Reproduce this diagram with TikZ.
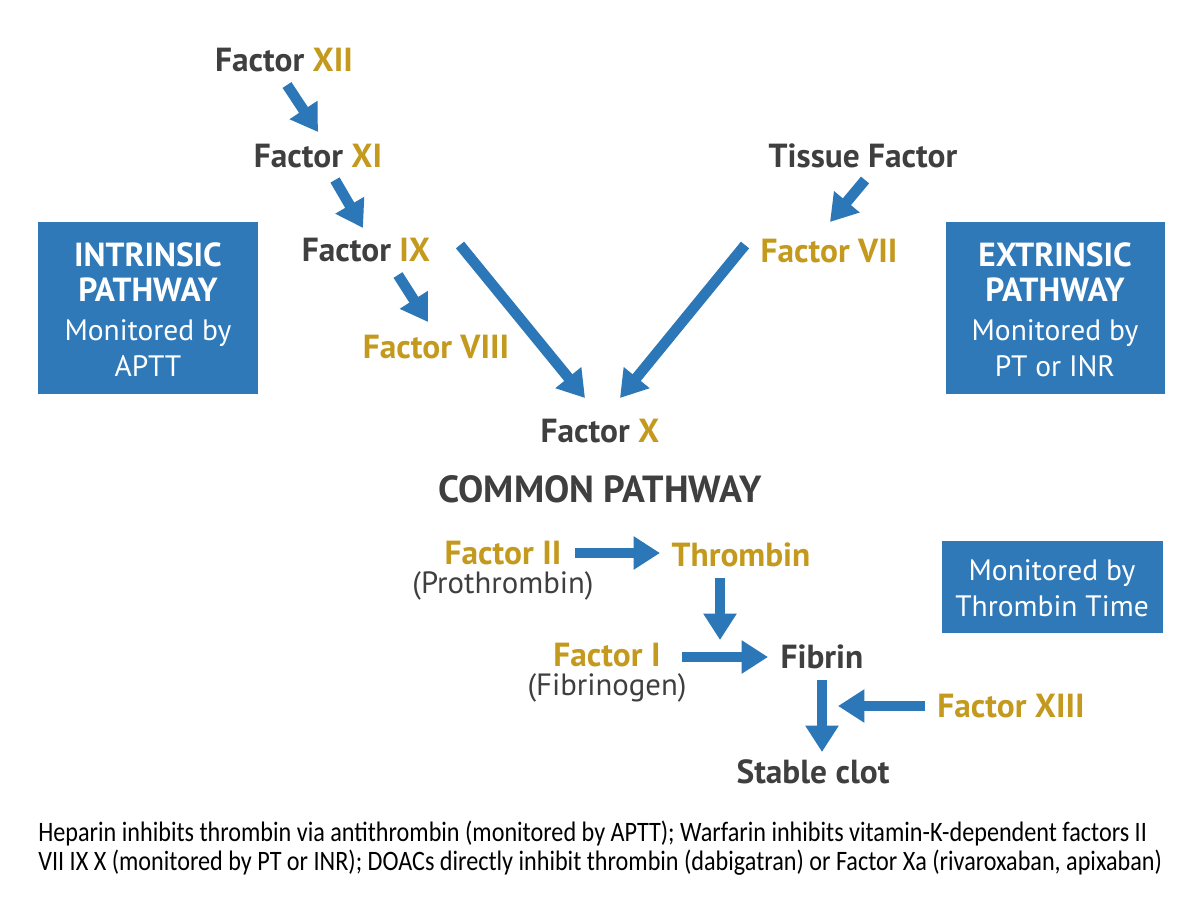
\documentclass[tikz,border=0pt]{standalone}
\usepackage{fontspec}
\setmainfont{PT Sans}
\newfontfamily\notefont[FakeStretch=0.86]{Carlito}
\usetikzlibrary{arrows.meta,calc}
\definecolor{dk}{HTML}{3F3F3F}
\definecolor{gd}{HTML}{C49A1E}
\definecolor{bl}{HTML}{2B77B7}
\definecolor{bx}{HTML}{2F79B8}
\tikzset{
  lbl/.style={font=\fontsize{19}{22}\selectfont\bfseries, text=dk, inner sep=0pt},
  sub/.style={font=\fontsize{17.5}{20}\selectfont, text=dk, inner sep=0pt},
  arr/.style={draw=bl, line width=6pt, -{Triangle[length=15pt,width=18pt]}},
  boxs/.style={fill=bx, draw=none},
  boxt/.style={text=white, font=\fontsize{19}{22}\selectfont\bfseries, inner sep=0pt},
  boxr/.style={text=white, font=\fontsize{16.8}{20}\selectfont, inner sep=0pt},
}
\begin{document}
\begin{tikzpicture}[x=0.02cm,y=-0.02cm]
\useasboundingbox[fill=white] (0,0) rectangle (1200,896);
% boxes
\fill[boxs] (38,222) rectangle (258,394);
\node[boxt] (intr1) at (148,255) {INTRINSIC};
\node[boxt] (intr2) at (148,290) {PATHWAY};
\node[boxr] (intr3) at (148,333) {Monitored by};
\node[boxr] (intr4) at (148,366) {APTT};
\fill[boxs] (946,222) rectangle (1165,394);
\node[boxt] (extr1) at (1055,255) {EXTRINSIC};
\node[boxt] (extr2) at (1055,290) {PATHWAY};
\node[boxr] (extr3) at (1055,333) {Monitored by};
\node[boxr] (extr4) at (1055,366) {PT or INR};
\fill[boxs] (942,541) rectangle (1163,633);
\node[boxr] (tt1) at (1052,573) {Monitored by};
\node[boxr] (tt2) at (1052,606) {Thrombin Time};
% nodes
\node[lbl] (xii) at (284,60) {Factor \textcolor{gd}{XII}};
\node[lbl] (xi) at (318,156) {Factor \textcolor{gd}{XI}};
\node[lbl] (ix) at (366,250) {Factor \textcolor{gd}{IX}};
\node[lbl,text=gd] (viii) at (436,347) {Factor VIII};
\node[lbl] (x) at (600,431) {Factor \textcolor{gd}{X}};
\node[lbl] (tf) at (863,156) {Tissue Factor};
\node[lbl,text=gd] (vii) at (829,251) {Factor VII};
\node[lbl,font=\fontsize{21.5}{24}\selectfont\bfseries] (common) at (600,489) {COMMON PATHWAY};
\node[lbl,text=gd] (fii) at (503,553) {Factor II};
\node[sub] (fiis) at (503,586) {(Prothrombin)};
\node[lbl,text=gd] (thr) at (741,555) {Thrombin};
\node[lbl,text=gd] (fi) at (607,655) {Factor I};
\node[sub] (fis) at (607,688) {(Fibrinogen)};
\node[lbl] (fib) at (822,657) {Fibrin};
\node[lbl,text=gd] (xiii) at (1011,706) {Factor XIII};
\node[lbl] (clot) at (813,772) {Stable clot};
% arrows
\draw[arr] ($(xii)+(3,25)$) -- ($(xi)+(0,-24)$);
\draw[arr] ($(xi)+(17,24)$) -- ($(ix)+(-3,-22)$);
\draw[arr] ($(ix)+(32,25)$) -- ($(viii)+(-8,-25)$);
\draw[arr] ($(ix)+(94,-5)$) -- ($(x)+(-15,-33)$);
\draw[arr] ($(vii)+(-84,-6)$) -- ($(x)+(20,-33)$);
\draw[arr] ($(tf)+(2,24)$) -- ($(vii)+(1,-29)$);
\draw[arr] ($(fii)+(72,0)$) -- ($(thr)+(-81,-2)$);
\coordinate (thrend) at ($(thr)+(-21,85)$);
\draw[arr] ($(thr)+(-21,23)$) -- (thrend);
\draw[arr] ($(fi)+(75,2)$) -- ($(fib)+(-54,0)$);
\draw[arr] ($(fib)+(0,23)$) -- ($(clot)+(9,-20)$);
\coordinate (xiiiend) at ($(fib)+(16,49)$);
\draw[arr] ($(xiii)+(-86,0)$) -- (xiiiend);
% note
\node[anchor=north west, align=left, inner sep=0pt, text=black,
  font=\notefont\fontsize{16}{16}\selectfont] (note) at (38,821)
  {Heparin inhibits thrombin via antithrombin (monitored by APTT); Warfarin inhibits vitamin-K-dependent factors II\\
   VII IX X (monitored by PT or INR); DOACs directly inhibit thrombin (dabigatran) or Factor Xa (rivaroxaban, apixaban)};
\end{tikzpicture}
\end{document}
